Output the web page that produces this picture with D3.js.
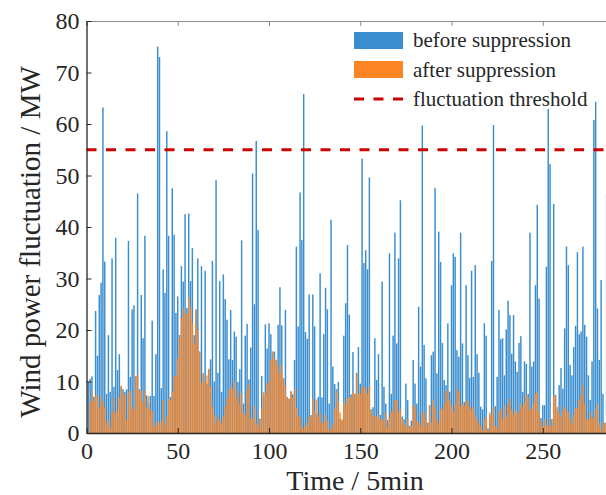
<!DOCTYPE html>
<html>
<head>
<meta charset="utf-8">
<script src="https://cdn.jsdelivr.net/npm/d3@7"></script>
<style>
  body { margin: 0; background: #fff; }
  svg text { font-family: "Liberation Serif", "Times New Roman", serif !important; fill: #262626; }
</style>
</head>
<body>
<div id="chart"></div>
<script>
// wind power fluctuation per 5-min step
var before = [
  10, 10.5, 11, 7, 23.7, 15, 26.8, 29.2, 63.2, 33.3,
  7.6, 19, 8, 33.9, 9, 37.9, 12.2, 15.3, 9, 8.5,
  8, 8.5, 37.3, 10.9, 24, 24.8, 11, 46.5, 8.5, 26.8,
  18.4, 38.3, 7.3, 5.8, 7.2, 21.8, 7.2, 15.3, 75, 73,
  8.7, 31.8, 27.2, 58.6, 38.3, 7, 47.5, 38.5, 23.3, 26.5,
  19, 32.4, 29.4, 42.5, 24.3, 42.6, 29.5, 35.9, 19, 24,
  33.9, 15.8, 32.4, 11.6, 31.5, 9.6, 12.3, 14.3, 33.4, 10,
  49.1, 11.7, 29.5, 8, 30.8, 26, 22, 14.3, 23.9, 14.2,
  19.7, 18.7, 9.9, 12.4, 37.4, 5.7, 18.9, 21.2, 10.4, 16.6,
  50.4, 25, 56.7, 39.4, 2.8, 11.1, 7.2, 21.1, 16.4, 21.3,
  19.2, 15.8, 15.8, 14.2, 21, 28.3, 20.9, 10.6, 23.9, 7,
  6.6, 8.1, 7.5, 14.2, 36.2, 20.7, 46.7, 37.5, 65.8, 19.6,
  18.3, 26.9, 3.5, 26.9, 20.7, 3.8, 7, 31, 6.9, 19.2,
  28.2, 24, 5.7, 41.4, 12.9, 9.5, 8.5, 9.9, 2.7, 2.4,
  18.9, 25.2, 36.5, 23, 7.5, 15.7, 7.6, 11.7, 16.7, 9.6,
  53.3, 33, 35.5, 31.8, 49.6, 4.6, 5, 18.4, 10.3, 15.3,
  3.5, 29.4, 9, 5.7, 2.5, 34.9, 7.6, 18.9, 38.9, 17.4,
  33.9, 45.2, 3.2, 2.7, 9.6, 6.4, 1.4, 2.4, 14.2, 9.6,
  5.7, 24.5, 12.9, 59.7, 17.1, 10.6, 2, 5.4, 15.1, 15.8,
  47.6, 11.6, 39.1, 33.2, 17.5, 10.3, 9.3, 21.3, 8, 28.7,
  34.9, 34.2, 16.1, 14.8, 38.9, 17.4, 6, 28.7, 15.1, 10.7,
  31.5, 10.9, 32.6, 15.3, 11.7, 5.1, 4.6, 21.3, 18.9, 0.9,
  3.5, 33.4, 59.8, 5.2, 10.9, 23.9, 18.2, 18.4, 11.2, 20.1,
  25.7, 22.9, 15.4, 22.9, 13.9, 11.9, 17.5, 18.8, 8, 13.9,
  13.4, 7.6, 38.9, 12.9, 13.9, 28.7, 44.3, 26.1, 2.9, 5.4,
  5.4, 32.3, 62.9, 52.2, 2.7, 44.5, 7.4, 4.6, 9.3, 12.6,
  8.6, 20.3, 36.2, 32.6, 13.2, 11.2, 16.7, 20.8, 35.1, 19.2,
  19.7, 36.2, 21, 18.7, 11.2, 6.4, 13.9, 60.8, 64.3, 24.2,
  14.2, 29.7, 7.6, 2, 46.4
];

var after = [
  0.3, 6, 8.3, 6.3, 7.3, 7.3, 5, 7, 6, 5,
  2, 2.6, 1, 4, 7.1, 4, 4.4, 6.8, 9.2, 7.8,
  7.5, 2.6, 7.8, 8.3, 5, 4.5, 11, 11.5, 8.4, 8.3,
  6, 8.3, 5, 7.1, 4.5, 4.3, 1.4, 1.4, 2.3, 2,
  2.3, 6.4, 1.6, 3.2, 6.7, 6.4, 8, 11, 11.2, 14.5,
  18.6, 22.3, 24.2, 23.3, 23.1, 26.3, 24.4, 21.3, 17.4, 23.9,
  20, 15.8, 9.6, 11.6, 10, 11.2, 12.5, 9, 5.1, 3.5,
  1.9, 3.2, 2.6, 1.9, 3.2, 5.1, 6.7, 8.3, 9, 8.6,
  10, 6.9, 8.2, 5.6, 7.6, 4, 3.5, 8.5, 9.6, 2.7,
  3, 5.2, 1.8, 2.7, 1.1, 4.6, 8, 7.6, 9.6, 10,
  14.2, 15.8, 14.5, 14.2, 12.9, 11.6, 13.3, 10.6, 9.1, 7,
  6.7, 8, 7, 8.6, 4.8, 3.2, 3.2, 1.4, 0.8, 1.4,
  2, 3.2, 3.2, 6.7, 4, 6.5, 3.2, 4, 2, 2,
  3.5, 2.4, 0.8, 0.8, 1.8, 4.8, 8.2, 6, 4, 2.7,
  5.7, 5.7, 6.7, 6.9, 7, 8, 7.6, 11.6, 7.6, 7.6,
  9.1, 9, 8.6, 7.6, 9.1, 4.5, 3.5, 3.2, 3.2, 3.5,
  2.7, 2.7, 2.4, 4, 1.1, 3, 4, 4.6, 6.4, 6.4,
  4, 4.6, 2.7, 1.8, 1.4, 2.7, 1.1, 1.4, 5.4, 5.1,
  2.4, 2, 1.4, 4, 4, 2.7, 1.4, 5.4, 2, 6.4,
  5.1, 2.7, 2, 4.6, 4.6, 5.7, 8, 8.3, 6.4, 5.1,
  4, 5.7, 8.6, 8, 5.1, 5.7, 5.4, 6, 6.4, 5.1,
  4.6, 5.1, 3.5, 2.7, 2, 1.4, 0.5, 2.7, 3.2, 0.5,
  4, 3.5, 5.1, 1.4, 1.1, 4, 4.6, 2.7, 5.1, 3.2,
  5.7, 6.7, 4.6, 3.5, 4.6, 4, 4, 5.7, 5.1, 6,
  7.6, 7, 4.6, 4.6, 5.7, 7.6, 8, 4, 2.4, 1.4,
  2.7, 1.4, 1.4, 2.7, 1.4, 7, 7.4, 5.1, 4, 3.2,
  4.6, 5.1, 4.3, 4, 2.7, 1.8, 3.5, 4.8, 4.8, 6.4,
  7.4, 9.3, 5.7, 2.7, 2.7, 4, 3.2, 2.7, 4.6, 5.7,
  2, 0.8, 2, 1.8, 2.4
];

var threshold = 55;
var xTicks = [0, 50, 100, 150, 200, 250];
var yTicks = [0, 10, 20, 30, 40, 50, 60, 70, 80];
var legendLabels = ['before suppression', 'after suppression', 'fluctuation threshold'];

var W = 606, H = 495;
var margin = { top: 21, left: 86.5, bottom: 62 };
var plotH = H - margin.top - margin.bottom;
var xMax = 289;
var pxPerStep = 1.825;

var blue = '#3a8ecf', orange = '#fd8423', red = '#cc0000';
var serif = '"Liberation Serif", "Times New Roman", serif';

var x = d3.scaleLinear().domain([0, xMax]).range([margin.left, margin.left + xMax * pxPerStep]);
var y = d3.scaleLinear().domain([0, 80]).range([margin.top + plotH, margin.top]);

var barW = (x(1) - x(0)) * 0.8;

var svg = d3.select('#chart').append('svg')
  .attr('width', W)
  .attr('height', H);

// bars
svg.append('g').selectAll('rect')
  .data(before)
  .join('rect')
  .attr('x', (d, i) => x(i + 1) - barW / 2)
  .attr('y', d => y(d))
  .attr('width', barW)
  .attr('height', d => y(0) - y(d))
  .attr('fill', blue);

svg.append('g').selectAll('rect')
  .data(after)
  .join('rect')
  .attr('x', (d, i) => x(i + 1) - barW / 2)
  .attr('y', d => y(d))
  .attr('width', barW)
  .attr('height', d => y(0) - y(d))
  .attr('fill', orange)
  .attr('fill-opacity', 0.88);

// threshold line
svg.append('line')
  .attr('x1', x(0)).attr('x2', x(xMax))
  .attr('y1', y(threshold)).attr('y2', y(threshold))
  .attr('stroke', red)
  .attr('stroke-width', 3)
  .attr('stroke-dasharray', '10,9.5');

// top border with inward ticks
svg.append('g')
  .attr('transform', `translate(0,${margin.top})`)
  .call(d3.axisTop(x).tickValues(xTicks).tickSize(-5).tickFormat(''))
  .call(g => g.selectAll('line, path').attr('stroke', '#8c8c8c'));

// x axis
svg.append('g')
  .attr('transform', `translate(0,${y(0)})`)
  .attr('font-family', null)
  .call(d3.axisBottom(x).tickValues(xTicks).tickSize(-5).tickSizeOuter(0).tickPadding(9))
  .call(g => g.select('.domain').attr('stroke', '#262626').attr('stroke-width', 1.3))
  .call(g => g.selectAll('.tick line').attr('stroke', '#262626'))
  .call(g => g.selectAll('text').style('font-family', serif).style('font-size', '24px').attr('fill', '#262626'));

// y axis
svg.append('g')
  .attr('transform', `translate(${margin.left},0)`)
  .call(d3.axisLeft(y).tickValues(yTicks).tickSize(-5).tickSizeOuter(0).tickPadding(7))
  .call(g => g.select('.domain').attr('stroke', '#262626').attr('stroke-width', 1.3))
  .call(g => g.selectAll('.tick line').attr('stroke', '#262626'))
  .call(g => g.selectAll('text').style('font-family', serif).style('font-size', '24px').attr('fill', '#262626'));

// axis labels
svg.append('text')
  .attr('x', 355)
  .attr('y', 490)
  .attr('text-anchor', 'middle')
  .style('font-size', '28px')
  .text('Time / 5min');

svg.append('text')
  .attr('transform', 'translate(40,242) rotate(-90)')
  .attr('text-anchor', 'middle')
  .style('font-size', '29px')
  .text('Wind power fluctuation / MW');

// legend
var lg = svg.append('g').attr('transform', 'translate(354,32)');
lg.append('rect').attr('x', 0).attr('y', 0).attr('width', 49).attr('height', 17).attr('fill', blue);
lg.append('rect').attr('x', 0).attr('y', 29).attr('width', 49).attr('height', 17).attr('fill', orange);
lg.append('line')
  .attr('x1', 0).attr('x2', 49).attr('y1', 67).attr('y2', 67)
  .attr('stroke', red).attr('stroke-width', 3).attr('stroke-dasharray', '10,9.5');
lg.selectAll('text.lbl')
  .data(legendLabels)
  .join('text')
  .attr('class', 'lbl')
  .attr('x', 59)
  .attr('y', (d, i) => 15 + i * 29.5)
  .style('font-size', '21px')
  .text(d => d);
</script>
</body>
</html>
